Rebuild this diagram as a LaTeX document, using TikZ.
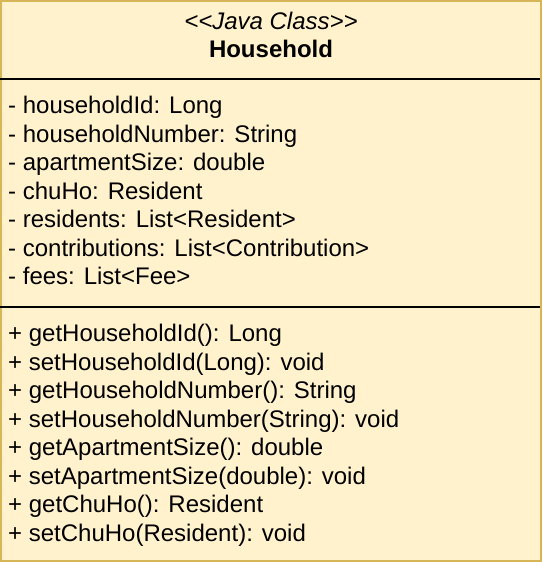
\documentclass[tikz,border=0pt]{standalone}
\usepackage{fontspec}
\setmainfont{Liberation Sans}
\usetikzlibrary {positioning}
\definecolor{classfill}{HTML}{FFF2CC}
\definecolor{classline}{HTML}{D6B656}

\begin{document}
\begin{tikzpicture}[x=1pt, y=-1pt, node distance = 28.5pt, on grid, font=\fontsize{24}{28}\selectfont, member/.style={anchor=base west, inner sep=0pt}, title/.style={anchor=base, inner sep=0pt}]
	\useasboundingbox (0,0) rectangle (542,562);
	\path [fill=classfill, draw=classline, line width=2pt] (1,1) rectangle (541,561);
	% header
	\node [title] (stereo) at (271,29.5) {\itshape {<}{<}Java Class{>}{>}};
	\node [title] (cname) at (271,57.5) {\bfseries Household};
	\coordinate (sepA) at (0,79);
	\coordinate (sepB) at (0,307);
	\draw [line width=2pt] (sepA) -- ++(540,0);
	\draw [line width=2pt] (sepB) -- ++(540,0);
	% attributes
	\node [member] (hid) at (8,113.5) {- householdId: Long};
	\node [member] (hnum) [below =of hid.base west, anchor=base west] {- householdNumber: String};
	\node [member] (asize) [below =of hnum.base west, anchor=base west] {- apartmentSize: double};
	\node [member] (chuho) [below =of asize.base west, anchor=base west] {- chuHo: Resident};
	\node [member] (res) [below =of chuho.base west, anchor=base west] {- residents: List{<}Resident{>}};
	\node [member] (contr) [below =of res.base west, anchor=base west] {- contributions: List{<}Contribution{>}};
	\node [member] (fees) [below =of contr.base west, anchor=base west] {- fees: List{<}Fee{>}};
	% methods
	\node [member] (m1) [below =57pt of fees.base west, anchor=base west] {+ getHouseholdId(): Long};
	\node [member] (m2) [below =of m1.base west, anchor=base west] {+ setHouseholdId(Long): void};
	\node [member] (m3) [below =of m2.base west, anchor=base west] {+ getHouseholdNumber(): String};
	\node [member] (m4) [below =of m3.base west, anchor=base west] {+ setHouseholdNumber(String): void};
	\node [member] (m5) [below =of m4.base west, anchor=base west] {+ getApartmentSize(): double};
	\node [member] (m6) [below =of m5.base west, anchor=base west] {+ setApartmentSize(double): void};
	\node [member] (m7) [below =of m6.base west, anchor=base west] {+ getChuHo(): Resident};
	\node [member] (m8) [below =of m7.base west, anchor=base west] {+ setChuHo(Resident): void};
\end{tikzpicture}
\end{document}
